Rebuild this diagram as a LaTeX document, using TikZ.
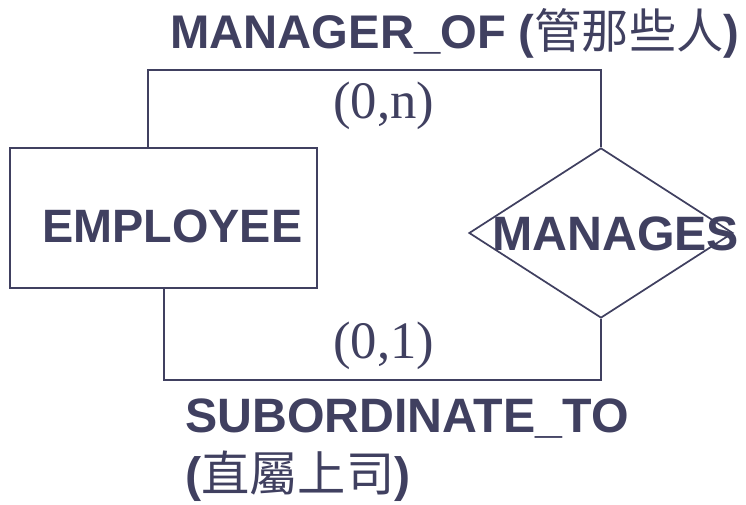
\documentclass[tikz,border=0pt]{standalone}
\usepackage{fontspec}
\setmainfont{Liberation Sans}
\newfontfamily\cjk{Noto Sans CJK TC}
\newfontfamily\serifcard{Liberation Serif}
\usetikzlibrary{shapes.geometric}
\definecolor{ink}{RGB}{64,64,96}
\begin{document}
\begin{tikzpicture}[x=0.75pt,y=-0.75pt,
  line/.style={draw=ink,line width=1.3pt},
  bigtxt/.style={text=ink,inner sep=0pt,anchor=base west,font=\fontsize{36.2}{40}\selectfont\bfseries},
  cardtxt/.style={text=ink,inner sep=0pt,anchor=base west,font=\fontsize{39.5}{44}\selectfont\serifcard},
  entity/.style={line,rectangle,inner sep=0pt,minimum width=230.25pt,minimum height=105pt},
  relship/.style={line,diamond,inner sep=0pt,minimum width=198pt,minimum height=127.5pt}]
\useasboundingbox (0,0) rectangle (746,505);
% shapes
\node[entity] (emp) at (163.5,218) {};
\node[relship] (dia) at (601,233) {};
\coordinate (tl) at (148,70);
\coordinate (bl) at (164,380);
% connectors
\draw[line] (emp.north -| tl) -- (tl) -| (dia.north);
\draw[line] (emp.south -| bl) -- (bl) -| (dia.south);
% labels
\node[bigtxt,font=\fontsize{35.1}{40}\selectfont\bfseries] (empl) at (42,243) {EMPLOYEE};
\node[bigtxt] (manl) at (492,251) {MANAGES};
\node[bigtxt,font=\fontsize{35.4}{40}\selectfont\bfseries] (mof) at (170,49) {MANAGER\_OF (\mdseries\cjk 管那些人\bfseries\rmfamily)};
\node[bigtxt] (sub) at (185,433) {SUBORDINATE\_TO};
\node[bigtxt] (subc) at (185,492) {(\mdseries\cjk 直屬上司\bfseries\rmfamily)};
\node[cardtxt] (c0n) at (333,119) {(0,n)};
\node[cardtxt] (c01) at (333,359) {(0,1)};
\end{tikzpicture}
\end{document}
